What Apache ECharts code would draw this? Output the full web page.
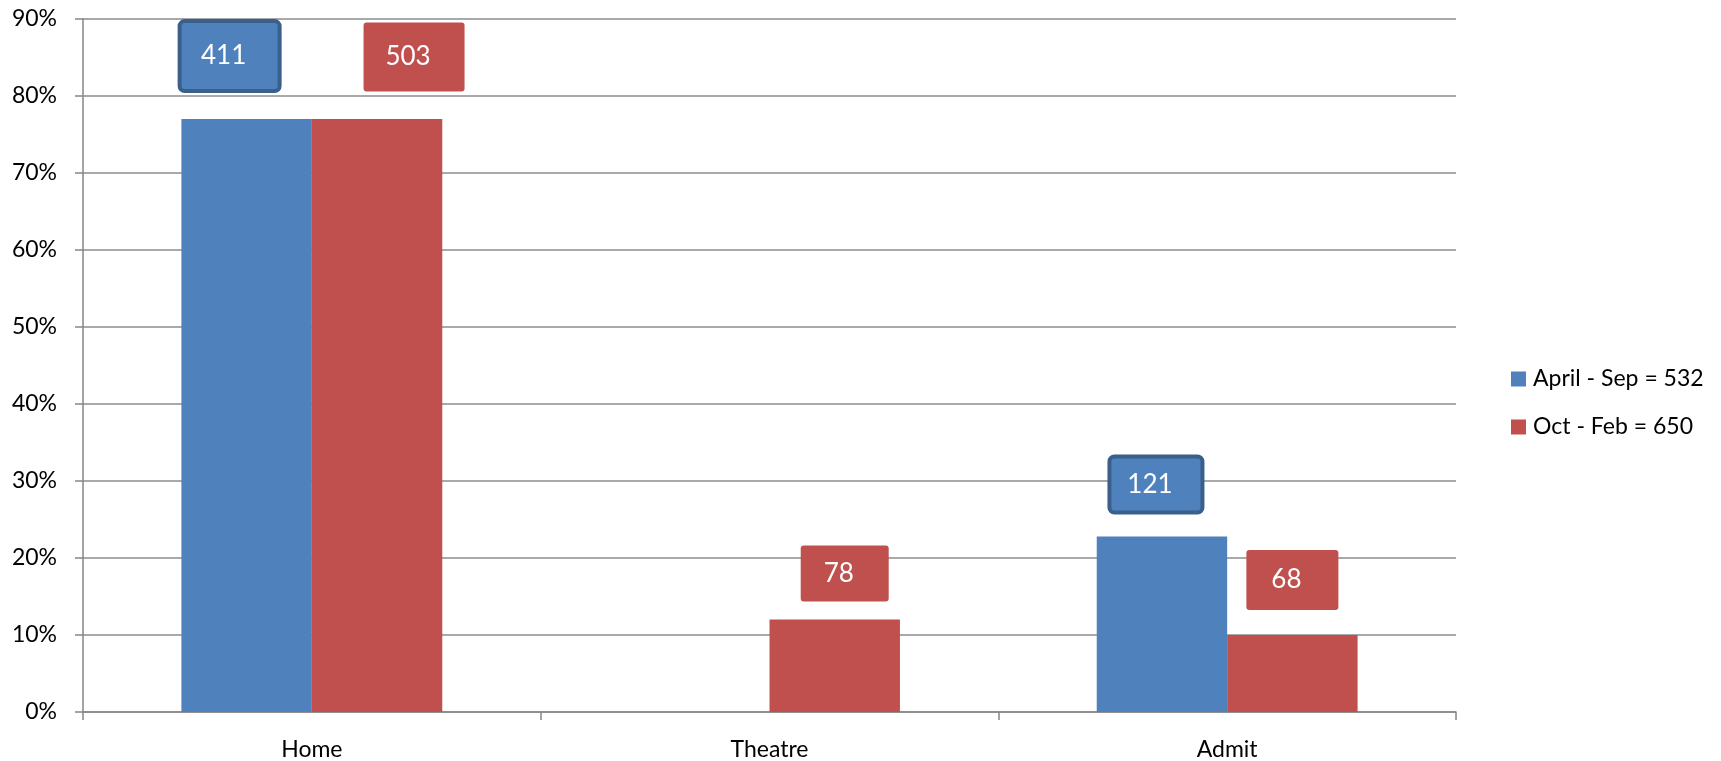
<!DOCTYPE html>
<html>
<head>
<meta charset="utf-8">
<script src="https://cdn.jsdelivr.net/npm/echarts@6/dist/echarts.min.js"></script>
<style>
html,body{margin:0;padding:0;background:#fff;}
#chart{width:1721px;height:761px;}
</style>
</head>
<body>
<div id="chart"></div>
<script>
// ---- data ----
var categories = ['Home', 'Theatre', 'Admit'];
var seriesNames = ['April - Sep = 532', 'Oct - Feb = 650'];
var aprSepPct = [77, null, 22.8];
var octFebPct = [77, 12, 10];
var aprSepCounts = [411, null, 121];
var octFebCounts = [503, 78, 68];
var yTicks = [0, 10, 20, 30, 40, 50, 60, 70, 80, 90];

// ---- style (label boxes, per item) ----
var FONT = 'Lato';
var aprSepBox = [
  {w: 100, h: 70, dx: -17, dy: -63},
  null,
  {w: 93, h: 56, dx: -6, dy: -52}
];
var octFebBox = [
  {w: 101, h: 69, dx: 37, dy: -62},
  {w: 88, h: 56, dx: 10, dy: -46},
  {w: 92, h: 60, dx: 0, dy: -55}
];

function buildData(vals, counts, boxes, color, border) {
  return vals.map(function (v, i) {
    var b = boxes[i];
    if (v == null || !b) return {value: v, label: {show: false}};
    var bw = border ? 4 : 0;
    return {
      value: v,
      label: {
        show: true,
        position: 'top',
        distance: 0,
        offset: [b.dx, b.dy],
        formatter: String(counts[i]),
        color: '#ffffff',
        fontFamily: FONT,
        fontSize: 26,
        width: b.w - bw - 12,
        height: b.h - bw - 8,
        lineHeight: b.h - 20,
        align: 'center',
        verticalAlign: 'middle',
        backgroundColor: color,
        borderColor: border || color,
        borderWidth: bw,
        borderRadius: 3,
        padding: [0, 12, 8, 0]
      }
    };
  });
}

var chart = echarts.init(document.getElementById('chart'), null, {renderer: 'canvas'});
chart.setOption({
  animation: false,
  backgroundColor: '#ffffff',
  grid: {left: 83, right: 265, top: 19, bottom: 48, containLabel: false},
  legend: {
    orient: 'vertical',
    left: 1506,
    top: 362,
    icon: 'rect',
    itemWidth: 15,
    itemHeight: 15,
    itemGap: 24,
    textStyle: {fontFamily: FONT, fontSize: 23, lineHeight: 24, color: '#000000', padding: [0, 0, 0, 2]},
    data: seriesNames
  },
  xAxis: {
    type: 'category',
    data: categories,
    axisLine: {show: true, lineStyle: {color: '#868686', width: 1.5}},
    axisTick: {show: true, alignWithLabel: false, length: 8, lineStyle: {color: '#868686', width: 1.5}},
    axisLabel: {fontFamily: FONT, fontSize: 23, color: '#000000', margin: 26}
  },
  yAxis: {
    type: 'value',
    min: yTicks[0],
    max: yTicks[yTicks.length - 1],
    interval: 10,
    axisLine: {show: true, lineStyle: {color: '#868686', width: 1.5}},
    axisTick: {show: true, length: 8, lineStyle: {color: '#868686', width: 1.5}},
    axisLabel: {fontFamily: FONT, fontSize: 23, color: '#000000', margin: 26, formatter: '{value}%'},
    splitLine: {show: true, lineStyle: {color: '#8c8c8c', width: 1.5}}
  },
  series: [
    {
      name: seriesNames[0],
      type: 'bar',
      barGap: '0%',
      barCategoryGap: '43%',
      itemStyle: {color: '#4f81bd'},
      data: buildData(aprSepPct, aprSepCounts, aprSepBox, '#4f81bd', '#3a5f8c')
    },
    {
      name: seriesNames[1],
      type: 'bar',
      barGap: '0%',
      barCategoryGap: '43%',
      itemStyle: {color: '#c0504d'},
      data: buildData(octFebPct, octFebCounts, octFebBox, '#c0504d', null)
    }
  ]
});
</script>
</body>
</html>
